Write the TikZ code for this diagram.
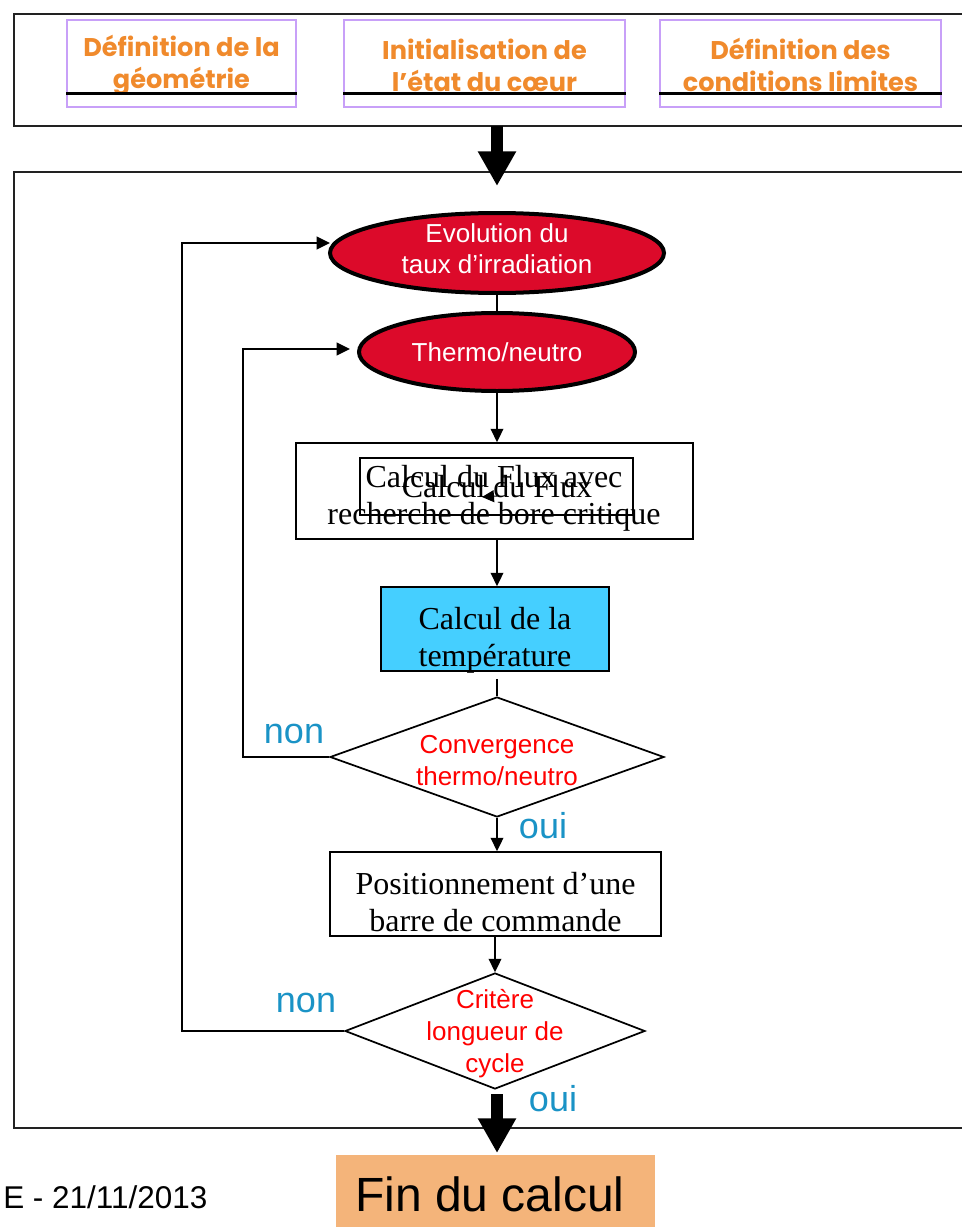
\documentclass[tikz,border=0pt]{standalone}
\usepackage{fontspec}
\setmainfont{Liberation Serif}
\newfontfamily\arialf{Liberation Sans}
\newfontfamily\roundf{Poppins}
\usetikzlibrary{shapes.geometric,arrows.meta}

\definecolor{stepTxt}{HTML}{F08A2C}
\definecolor{stepEdge}{HTML}{C8A0F8}
\definecolor{ellRed}{HTML}{DC0A2A}
\definecolor{tempCyan}{HTML}{45CFFF}
\definecolor{finOrange}{HTML}{F4B47A}
\definecolor{ansBlue}{HTML}{1A93C6}
\definecolor{testRed}{HTML}{FF0000}
\definecolor{frameGray}{HTML}{222222}

\tikzset{
  frame/.style={draw=frameGray, line width=1.5pt, inner sep=0pt},
  stepbox/.style={draw=stepEdge, line width=1.5pt, minimum height=65.25pt, inner sep=0pt},
  steptext/.style={text=stepTxt, align=center, font=\roundf\bfseries\fontsize{19.2}{24}\selectfont},
  underbar/.style={line width=2.25pt, black},
  redell/.style={ellipse, draw=black, line width=3pt, fill=ellRed, inner sep=0pt},
  elltext/.style={text=white, align=center, font=\arialf\fontsize{19.5}{23.25}\selectfont},
  procbox/.style={draw=black, line width=1.3pt, inner sep=0pt},
  proctext/.style={align=center, font=\fontsize{24}{27.75}\selectfont},
  testdiam/.style={diamond, draw=black, line width=1.3pt, inner sep=0pt},
  testtext/.style={text=testRed, align=center, font=\arialf\fontsize{19.5}{24}\selectfont},
  answer/.style={text=ansBlue, font=\arialf\fontsize{27}{30}\selectfont},
  conn/.style={line width=1.3pt, black},
  arr/.style={conn, -{Triangle[length=10pt,width=9.5pt]}},
  bigarrow/.style={line width=9.5pt, -{Triangle[length=26pt,width=27pt]}},
}

\begin{document}
\begin{tikzpicture}[x=0.75pt,y=-0.75pt]
\useasboundingbox (0,0) rectangle (962,1227);

% frames
\node[frame, minimum width=721.5pt, minimum height=84pt] (topframe) at (495,70) {};
\node[frame, minimum width=721.5pt, minimum height=717pt] (mainframe) at (495,650) {};

% input steps
\node[stepbox, minimum width=171.75pt] (b1) at (181.5,63.5) {};
\node[stepbox, minimum width=210.75pt] (b2) at (484.5,63.5) {};
\node[stepbox, minimum width=210.75pt] (b3) at (800.5,63.5) {};
\node[steptext] (b1t) at (181.5,65) {Définition de la\\géométrie};
\node[steptext] (b2t) at (484.5,65) {Initialisation de\\l’état du cœur};
\node[steptext] (b3t) at (800.5,65) {Définition des\\conditions limites};
\foreach \b in {b1,b2,b3}
  \draw[underbar] ([yshift=10.5pt]\b.south west) -- ([yshift=10.5pt]\b.south east);

% arrow into the main loop
\coordinate (inTop) at (497,126);
\coordinate (inTip) at (497,186);
\draw[bigarrow] (inTop) -- (inTip);

% burn-up and coupling ellipses
\node[redell, minimum width=250.5pt, minimum height=60pt] (e1) at (497,253) {};
\node[elltext] (e1t) at (497,249) {Evolution du\\taux d’irradiation};
\node[redell, minimum width=207pt, minimum height=58.5pt] (e2) at (497,352) {};
\node[elltext] (e2t) at (497,352) {Thermo/neutro};
\draw[conn] (e1.south) -- (e2.north);

% flux calculation
\node[procbox, minimum width=297.75pt, minimum height=72pt] (flux) at (494.5,491) {};
\node[procbox, line width=1pt, minimum width=204.75pt, minimum height=42.75pt] (fluxin) at (496.5,486.5) {};
\node[proctext] (fluxt) at (494,498) {Calcul du Flux avec\\recherche de bore critique};
\node[proctext] (fluxint) at (497,487) {Calcul du Flux};
\coordinate (sa) at (497,496);
\coordinate (sb) at (482,497);
\draw[conn, line width=0.8pt, -{Triangle[length=9pt,width=9pt]}] (sa) -- (sb);
\draw[arr] (e2.south) -- (e2.south |- flux.north);

% temperature
\node[procbox, fill=tempCyan, minimum width=171pt, minimum height=63pt] (temp) at (495,629) {};
\node[proctext] (tempt) at (495,640) {Calcul de la\\température};
\draw[arr] (e2.south |- flux.south) -- (e2.south |- temp.north);

% convergence test
\node[testdiam, minimum width=250.5pt, minimum height=90pt] (d1) at (497,757) {};
\node[testtext] (d1t) at (497,761) {Convergence\\thermo/neutro};
\draw[conn] ([yshift=-5.25pt]d1.north |- temp.south) -- (d1.north);

% control rod positioning
\node[procbox, minimum width=248.25pt, minimum height=63pt] (pos) at (495.5,894) {};
\node[proctext] (post) at (495.5,902) {Positionnement d’une\\barre de commande};
\draw[arr] (d1.south) -- (d1.south |- pos.north);
\node[answer] (oui1) at (543,826) {oui};

% cycle length test
\node[testdiam, minimum width=225pt, minimum height=87pt] (d2) at (495,1031) {};
\node[testtext] (d2t) at (495,1034) {Critère\\longueur de\\cycle};
\draw[arr] (d2.north |- pos.south) -- (d2.north);

% feedback loops
\coordinate (l1) at (243,757);
\coordinate (e2in) at (350,349);
\draw[arr] (d1.west) -- (l1) |- (e2in);
\node[answer] (non1) at (294,734) {non};

\coordinate (l2) at (182,1031);
\coordinate (e1in) at (330,243);
\draw[arr] (d2.west) -- (l2) |- (e1in);
\node[answer] (non2) at (306,1003) {non};

% end
\node[answer] (oui2) at (553,1099) {oui};
\node[fill=finOrange, minimum width=239.25pt, minimum height=60pt, inner sep=0pt] (fin) at (495.5,1195) {};
\node[font=\arialf\fontsize{36}{40}\selectfont] (fint) at (490,1194) {Fin du calcul};
\coordinate (outTop) at (497,1094);
\coordinate (outTip) at (497,1153);
\draw[bigarrow] (outTop) -- (outTip);

\node[anchor=west, inner sep=0pt, font=\arialf\fontsize{23.6}{26}\selectfont] (date) at (3,1197) {E - 21/11/2013};
\end{tikzpicture}
\end{document}
